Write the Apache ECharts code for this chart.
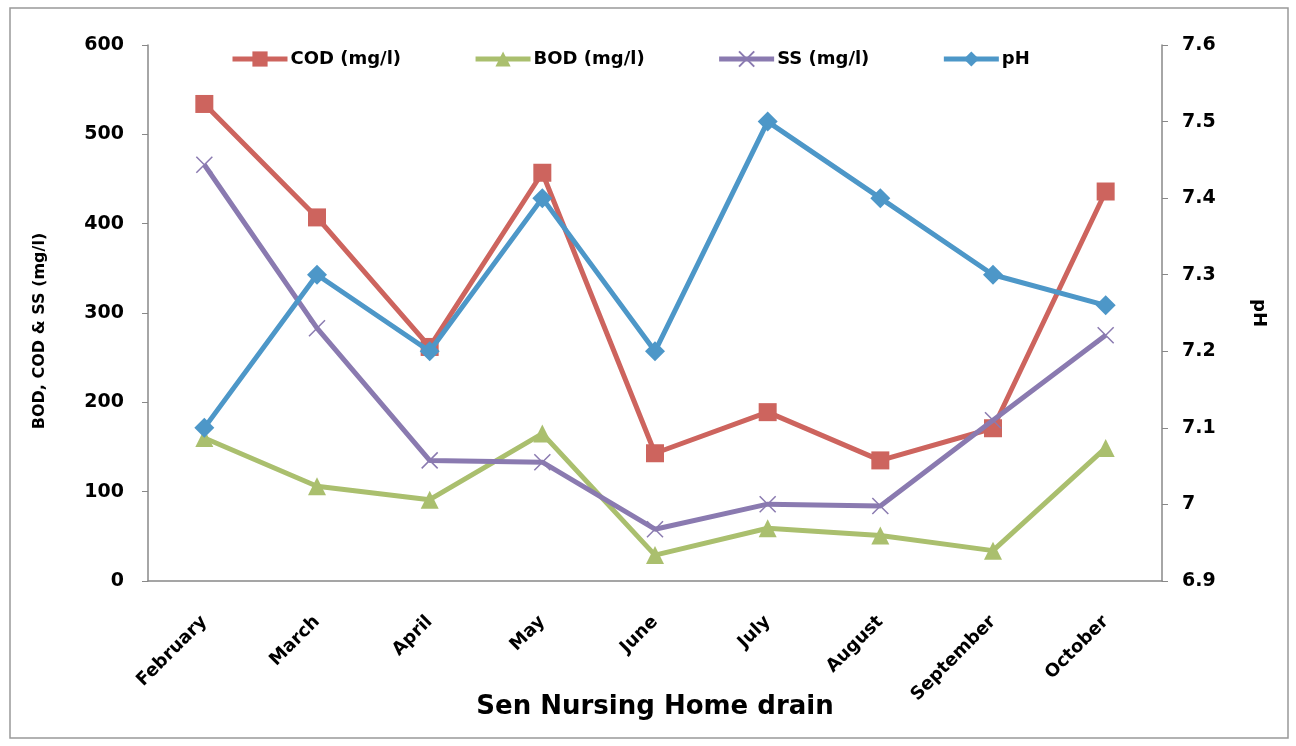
<!DOCTYPE html>
<html><head><meta charset="utf-8">
<script src="https://cdn.jsdelivr.net/npm/echarts@6/dist/echarts.min.js"></script>
<style>html,body{margin:0;padding:0;background:#fff}#c{width:1296px;height:746px}</style>
</head><body><div id="c"></div>
<script>
const categories = ['February','March','April','May','June','July','August','September','October'];
const cod = [534, 407, 262, 457, 143, 189, 135, 171, 436];
const bod = [160, 106, 91, 165, 29, 59, 51, 34, 149];
const ss  = [466, 283, 135, 133, 58, 86, 84, 180, 275];
const ph  = [7.1, 7.3, 7.2, 7.4, 7.2, 7.5, 7.4, 7.3, 7.26];
const leftTicks = [0, 100, 200, 300, 400, 500, 600];
const rightTicks = [6.9, 7.0, 7.1, 7.2, 7.3, 7.4, 7.5, 7.6];

const RED = '#CD645E', GREEN = '#AABF6E', PURPLE = '#8A7AB0', BLUE = '#4D97C8';
const FONT = 'DejaVu Sans';
const chart = echarts.init(document.getElementById('c'));
const axisLine = {show: true, lineStyle: {color: '#888', width: 1.5}};
chart.setOption({
  animation: false,
  textStyle: {fontFamily: FONT},
  graphic: [{type: 'rect', shape: {x: 10, y: 8, width: 1278, height: 730}, style: {fill: 'none', stroke: '#999', lineWidth: 1.5}, z: -1}],
  grid: {left: 148, right: 134, top: 45, bottom: 165},
  legend: {
    top: 45, left: 225, itemGap: 72, itemWidth: 55, itemHeight: 19,
    lineStyle: {width: 5},
    textStyle: {fontFamily: FONT, fontWeight: 'bold', fontSize: 18, color: '#000', padding: [0, 0, 0, -2]},
    data: ['COD (mg/l)', 'BOD (mg/l)', 'SS (mg/l)', 'pH']
  },
  xAxis: {
    type: 'category', data: categories, boundaryGap: true,
    axisLine: axisLine, axisTick: {show: false},
    axisLabel: {rotate: 45, fontFamily: FONT, fontWeight: 'bold', fontSize: 18, color: '#000', margin: 38},
    name: 'Sen Nursing Home drain', nameLocation: 'middle', nameGap: 113, nameMoveOverlap: false,
    nameTextStyle: {fontFamily: FONT, fontWeight: 'bold', fontSize: 26, color: '#000'}
  },
  yAxis: [{
    type: 'value', min: leftTicks[0], max: leftTicks[leftTicks.length-1], interval: 100,
    axisLine: axisLine, axisTick: {show: true, length: 6, lineStyle: {color: '#888'}},
    splitLine: {show: false},
    axisLabel: {fontFamily: FONT, fontWeight: 'bold', fontSize: 19, color: '#000', margin: 24},
    name: 'BOD, COD & SS (mg/l)', nameLocation: 'middle', nameGap: 100, nameRotate: 90,
    nameTextStyle: {fontFamily: FONT, fontWeight: 'bold', fontSize: 16, color: '#000', padding: [0, 36, 0, 0]}
  }, {
    type: 'value', min: rightTicks[0], max: rightTicks[rightTicks.length-1], interval: 0.1,
    position: 'right',
    axisLine: axisLine, axisTick: {show: true, length: 6, lineStyle: {color: '#888'}},
    splitLine: {show: false},
    axisLabel: {fontFamily: FONT, fontWeight: 'bold', fontSize: 19, color: '#000', margin: 20,
      formatter: v => { const r = Math.round(v*10)/10; return (r === 7 ? '7' : r.toFixed(1)); }},
    name: 'pH', nameLocation: 'middle', nameGap: 88, nameRotate: -90,
    nameTextStyle: {fontFamily: FONT, fontWeight: 'bold', fontSize: 18, color: '#000'}
  }],
  series: [
    {name: 'COD (mg/l)', type: 'line', data: cod, yAxisIndex: 0, symbol: 'rect', symbolSize: 18,
      lineStyle: {color: RED, width: 5}, itemStyle: {color: RED}, z: 3},
    {name: 'BOD (mg/l)', type: 'line', data: bod, yAxisIndex: 0, symbol: 'triangle', symbolSize: 18,
      lineStyle: {color: GREEN, width: 5}, itemStyle: {color: GREEN}, z: 2},
    {name: 'SS (mg/l)', type: 'line', data: ss, yAxisIndex: 0, symbol: 'path://M0,0L10,10M10,0L0,10', symbolSize: 16,
      lineStyle: {color: PURPLE, width: 5}, itemStyle: {color: PURPLE, borderColor: PURPLE, borderWidth: 1.5}, z: 4},
    {name: 'pH', type: 'line', data: ph, yAxisIndex: 1, symbol: 'diamond', symbolSize: 20,
      lineStyle: {color: BLUE, width: 5}, itemStyle: {color: BLUE}, z: 5}
  ]
});
</script></body></html>
